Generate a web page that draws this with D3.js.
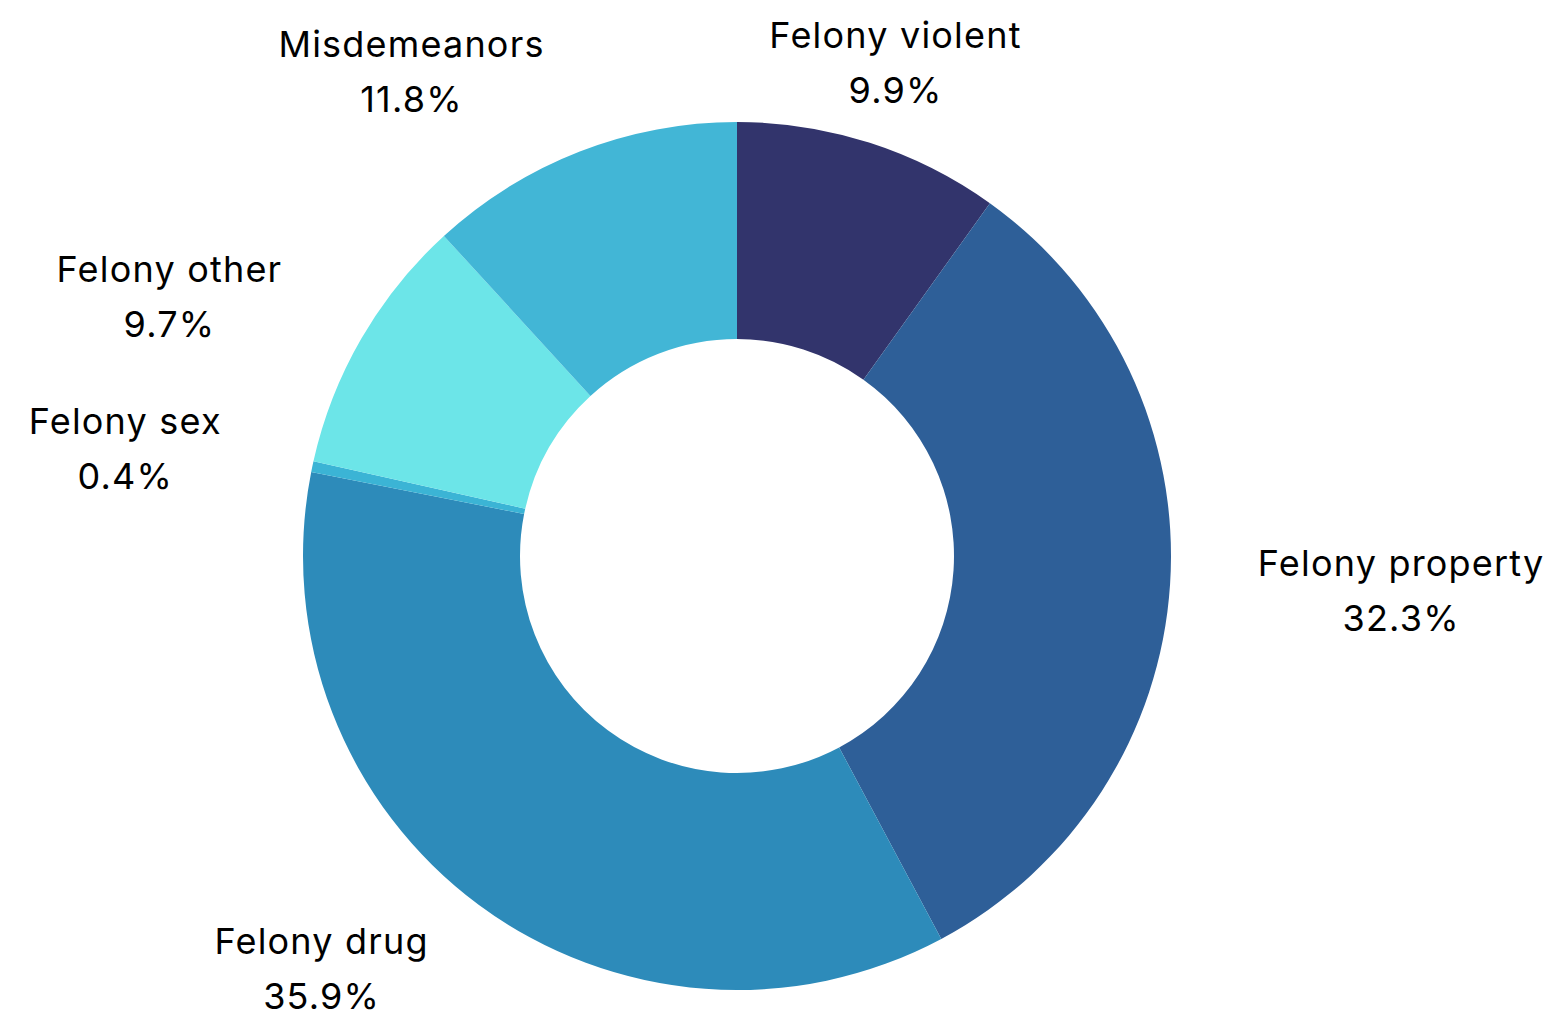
<!DOCTYPE html>
<html>
<head>
<meta charset="utf-8">
<script src="https://cdn.jsdelivr.net/npm/d3@7"></script>
<style>
  html, body { margin: 0; padding: 0; background: #fff; }
  svg { display: block; }
  text { font-family: Inter, "Noto Sans", sans-serif; fill: #000; }
</style>
</head>
<body>
<svg id="chart" width="1554" height="1018"></svg>
<script>
// ---- data ----
const categories = ["Felony violent", "Felony property", "Felony drug", "Felony sex", "Felony other", "Misdemeanors"];
const shares = [9.9, 32.3, 35.9, 0.4, 9.7, 11.8];
const colors = ["#32346C", "#2E5F98", "#2D8BBA", "#3BB4D5", "#6CE5E8", "#42B6D6"];

// ---- label layout (angle shift from slice mid-angle in degrees, distance from centre) ----
const labelAngleShift = [0, -0.8, 8.6, -2.0, -5.5, -12.7];
const labelDistance = [518, 665, 586, 621, 624, 583];

const W = 1554, H = 1018;
const cx = 737, cy = 556;
const outerR = 434, innerR = 217;

const svg = d3.select("#chart");
const g = svg.append("g").attr("transform", `translate(${cx},${cy})`);

const data = categories.map((c, i) => ({ name: c, value: shares[i], color: colors[i], i }));

const pie = d3.pie().value(d => d.value).sort(null).startAngle(0).endAngle(2 * Math.PI);
const arc = d3.arc().innerRadius(innerR).outerRadius(outerR);
const arcs = pie(data);

g.selectAll("path.slice")
  .data(arcs)
  .join("path")
  .attr("class", "slice")
  .attr("d", arc)
  .attr("fill", d => d.data.color);

const fmt = d3.format(".1f");
const labels = g.selectAll("g.label")
  .data(arcs)
  .join("g")
  .attr("class", "label")
  .attr("transform", d => {
    const mid = (d.startAngle + d.endAngle) / 2 + labelAngleShift[d.data.i] * Math.PI / 180;
    const r = labelDistance[d.data.i];
    return `translate(${r * Math.sin(mid)},${-r * Math.cos(mid)})`;
  });

labels.append("text")
  .attr("text-anchor", "middle")
  .attr("y", -15)
  .attr("font-size", 36)
  .attr("letter-spacing", 1.2)
  .text(d => d.data.name);

labels.append("text")
  .attr("text-anchor", "middle")
  .attr("y", 40)
  .attr("font-size", 36)
  .attr("letter-spacing", 1.2)
  .text(d => fmt(d.data.value) + "%");
</script>
</body>
</html>
